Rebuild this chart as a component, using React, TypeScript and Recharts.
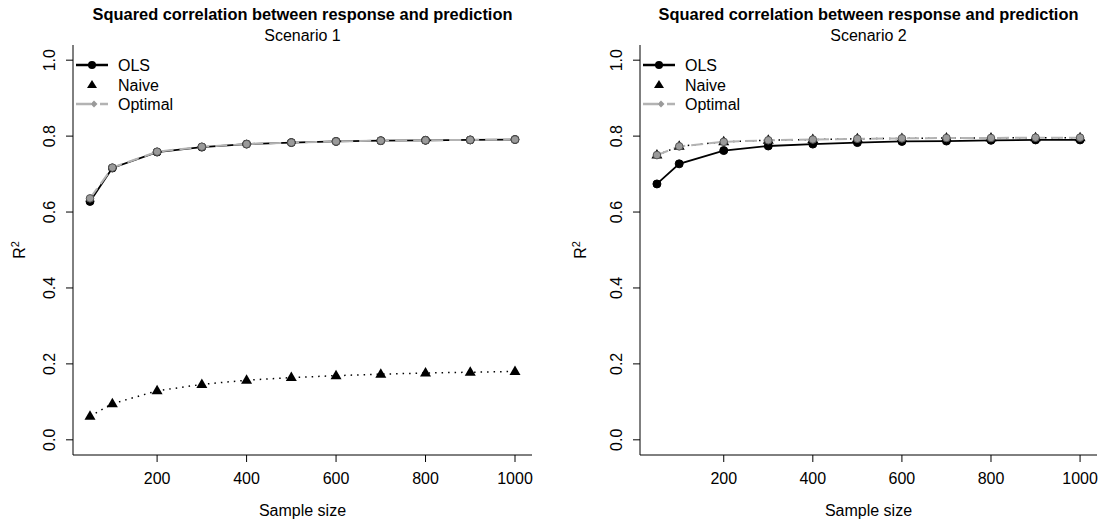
import { LineChart, Line, XAxis, YAxis } from "recharts";

const sampleSizes = [50, 100, 200, 300, 400, 500, 600, 700, 800, 900, 1000];

// Scenario 1
const s1Ols = [0.628, 0.716, 0.758, 0.771, 0.779, 0.783, 0.786, 0.788, 0.789, 0.79, 0.791];
const s1Naive = [0.062, 0.095, 0.129, 0.146, 0.157, 0.164, 0.169, 0.173, 0.176, 0.178, 0.18];
const s1Optimal = [0.636, 0.717, 0.759, 0.772, 0.779, 0.783, 0.786, 0.788, 0.789, 0.79, 0.791];

// Scenario 2
const s2Ols = [0.674, 0.727, 0.762, 0.774, 0.779, 0.783, 0.786, 0.787, 0.789, 0.79, 0.79];
const s2Naive = [0.75, 0.773, 0.785, 0.789, 0.791, 0.793, 0.794, 0.795, 0.795, 0.796, 0.796];
const s2Optimal = [0.75, 0.773, 0.785, 0.789, 0.791, 0.793, 0.794, 0.795, 0.795, 0.796, 0.796];

const xTicks = [200, 400, 600, 800, 1000];
const yTicks = [0, 0.2, 0.4, 0.6, 0.8, 1.0];
const seriesNames = ["OLS", "Naive", "Optimal"];

const FONT = "'Liberation Sans', Arial, Helvetica, sans-serif";
const GRAY_LINE = "#b3b3b3";
const GRAY_DOT = "#9a9a9a";

function buildRows(ols: number[], naive: number[], optimal: number[]) {
  return sampleSizes.map((n, i) => ({ n, ols: ols[i], naive: naive[i], optimal: optimal[i] }));
}

const circleDot = (fill: string, stroke: string, r: number) => (props: any) => {
  const { cx, cy, index } = props;
  return <circle key={`c-${index}`} cx={cx} cy={cy} r={r} fill={fill} stroke={stroke} strokeWidth={1} />;
};

const triangleDot = (props: any) => {
  const { cx, cy, index } = props;
  const pts = `${cx},${cy - 6} ${cx - 5.5},${cy + 3.5} ${cx + 5.5},${cy + 3.5}`;
  return <polygon key={`t-${index}`} points={pts} fill="#000" />;
};

const YTick = (props: any) => {
  const { x, y, payload } = props;
  return (
    <text
      x={x}
      y={y}
      transform={`rotate(-90, ${x}, ${y})`}
      textAnchor="middle"
      fontSize={16}
      fontFamily={FONT}
      fill="#000"
    >
      {Number(payload.value).toFixed(1)}
    </text>
  );
};

const XTick = (props: any) => {
  const { x, y, payload } = props;
  return (
    <text x={x} y={y + 11} textAnchor="middle" fontSize={16} fontFamily={FONT} fill="#000">
      {payload.value}
    </text>
  );
};

function PanelLegend({ left }: { left: number }) {
  const x0 = left + 3;
  const x1 = left + 35;
  const tx = left + 45;
  const rows = [65, 85, 104];
  return (
    <g>
      <line x1={x0} y1={rows[0]} x2={x1} y2={rows[0]} stroke="#000" strokeWidth={2.5} />
      <circle cx={(x0 + x1) / 2} cy={rows[0]} r={4} fill="#000" />
      <polygon
        points={`${(x0 + x1) / 2},${rows[1] - 5} ${(x0 + x1) / 2 - 5},${rows[1] + 3} ${(x0 + x1) / 2 + 5},${rows[1] + 3}`}
        fill="#000"
      />
      <line x1={x0} y1={rows[2]} x2={x0 + 15} y2={rows[2]} stroke={GRAY_LINE} strokeWidth={2.5} />
      <line x1={x0 + 24} y1={rows[2]} x2={x1} y2={rows[2]} stroke={GRAY_LINE} strokeWidth={2.5} />
      <polygon
        points={`${x0 + 18},${rows[2] - 3.5} ${x0 + 21.5},${rows[2]} ${x0 + 18},${rows[2] + 3.5} ${x0 + 14.5},${rows[2]}`}
        fill={GRAY_DOT}
      />
      {seriesNames.map((s, i) => (
        <text key={s} x={tx} y={rows[i] + 6} fontSize={16} fontFamily={FONT} fill="#000">
          {s}
        </text>
      ))}
    </g>
  );
}

function Panel({
  left,
  yAxisWidth,
  rightMargin,
  ols,
  naive,
  optimal,
}: {
  left: number;
  yAxisWidth: number;
  rightMargin: number;
  ols: number[];
  naive: number[];
  optimal: number[];
}) {
  const rows = buildRows(ols, naive, optimal);
  return (
    <div style={{ position: "absolute", left, top: 0 }}>
      <LineChart width={551} height={525} data={rows} margin={{ top: 45, right: rightMargin, bottom: 0, left: 0 }}>
        <XAxis
          dataKey="n"
          type="number"
          domain={[12, 1038]}
          ticks={xTicks}
          allowDataOverflow
          height={70}
          tickSize={7}
          tickMargin={11}
          tick={<XTick />}
          stroke="#000"
          tickLine={{ stroke: "#000" }}
        />
        <YAxis
          type="number"
          domain={[-0.04, 1.04]}
          ticks={yTicks}
          allowDataOverflow
          width={yAxisWidth}
          tickSize={7}
          tickMargin={11}
          tick={<YTick />}
          stroke="#000"
          tickLine={{ stroke: "#000" }}
        />
        <Line
          dataKey="ols"
          stroke="#000"
          strokeWidth={1.8}
          dot={circleDot("#000", "#000", 4)}
          isAnimationActive={false}
        />
        <Line
          dataKey="naive"
          stroke="#000"
          strokeWidth={1.5}
          strokeDasharray="1.5 5"
          dot={triangleDot}
          isAnimationActive={false}
        />
        <Line
          dataKey="optimal"
          stroke={GRAY_LINE}
          strokeWidth={2}
          strokeDasharray="12 6"
          dot={circleDot(GRAY_DOT, "#555", 3.8)}
          isAnimationActive={false}
        />
      </LineChart>
    </div>
  );
}

export default function App() {
  const panels = [
    { left: 0, plotLeft: 73, plotRight: 532, ylab: 19, scenario: "Scenario 1" },
    { left: 551, plotLeft: 640, plotRight: 1097, ylab: 580, scenario: "Scenario 2" },
  ];
  return (
    <div style={{ position: "absolute", left: 0, top: 0, width: 1102, height: 525, background: "#fff" }}>
      <Panel left={0} yAxisWidth={73} rightMargin={19} ols={s1Ols} naive={s1Naive} optimal={s1Optimal} />
      <Panel left={551} yAxisWidth={89} rightMargin={5} ols={s2Ols} naive={s2Naive} optimal={s2Optimal} />
      <svg
        width={1102}
        height={525}
        style={{ position: "absolute", left: 0, top: 0, pointerEvents: "none" }}
      >
        {panels.map((p) => {
          const cx = (p.plotLeft + p.plotRight) / 2;
          return (
            <g key={p.scenario}>
              <text x={cx} y={20} textAnchor="middle" fontSize={16.4} fontWeight="bold" fontFamily={FONT} fill="#000">
                Squared correlation between response and prediction
              </text>
              <text x={cx} y={41} textAnchor="middle" fontSize={16} fontFamily={FONT} fill="#000">
                {p.scenario}
              </text>
              <text x={cx} y={516} textAnchor="middle" fontSize={16} fontFamily={FONT} fill="#000">
                Sample size
              </text>
              <text
                x={p.ylab + 6}
                y={250}
                transform={`rotate(-90, ${p.ylab + 6}, 250)`}
                textAnchor="middle"
                fontSize={16}
                fontFamily={FONT}
                fill="#000"
              >
                R<tspan fontSize={11} dy={-6}>2</tspan>
              </text>
              <PanelLegend left={p.plotLeft} />
            </g>
          );
        })}
      </svg>
    </div>
  );
}
